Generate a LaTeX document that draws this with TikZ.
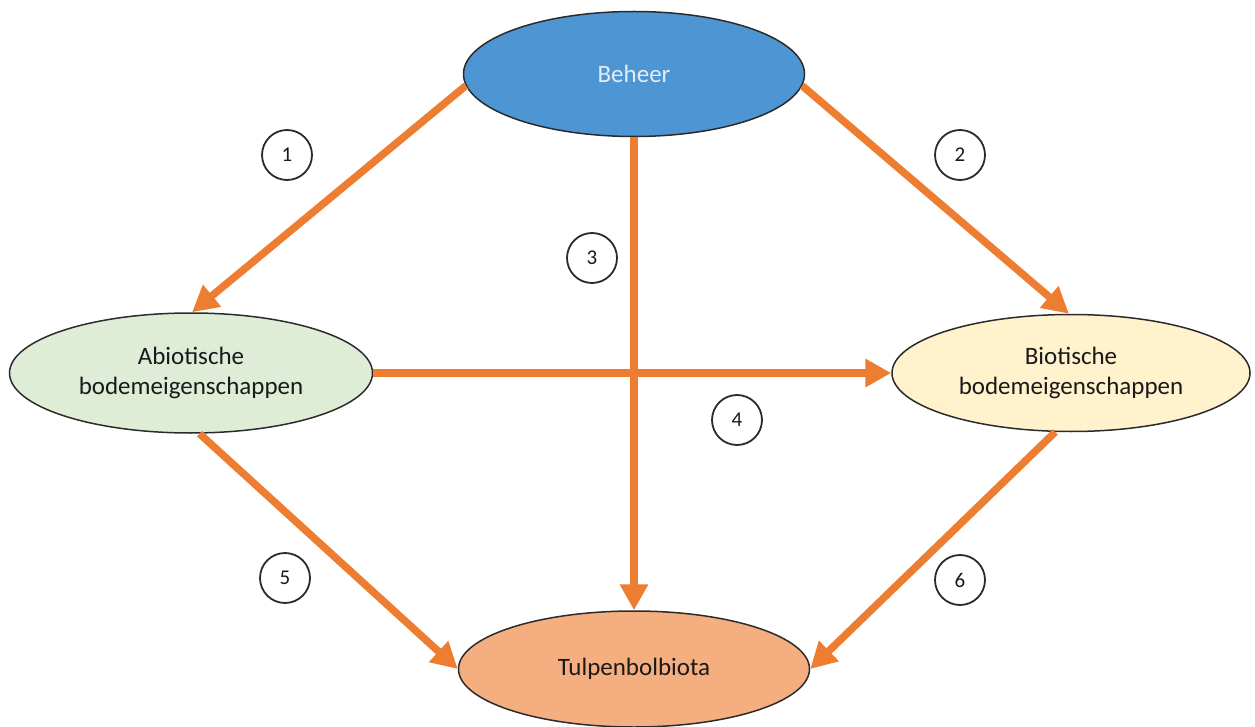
\documentclass[tikz,border=0pt]{standalone}
\usepackage{fontspec}
\setmainfont{Carlito}
\usetikzlibrary{shapes.geometric,arrows.meta}
\definecolor{arrowc}{HTML}{ED7D31}
\definecolor{bluef}{HTML}{4E95D3}
\definecolor{greenf}{HTML}{DFEDD7}
\definecolor{yellowf}{HTML}{FFF2CC}
\definecolor{salmonf}{HTML}{F4AE7F}
\definecolor{edgec}{HTML}{2B2B2B}
\definecolor{textc}{HTML}{1A1A1A}
\definecolor{lighttext}{HTML}{E4ECF6}
\tikzset{
  oval/.style={ellipse, draw=edgec, line width=1.5pt, inner sep=0pt, align=center,
    font=\fontsize{25}{30}\selectfont, text=textc},
  flow/.style={draw=arrowc, line width=7.5pt, -{Triangle[length=26pt,width=27pt]}},
  num/.style={circle, draw=edgec, line width=1.8pt, minimum size=50pt, inner sep=0pt,
    font=\fontsize{21}{21}\selectfont, text=textc, fill=white}
}
\begin{document}
\begin{tikzpicture}[x=1pt,y=-1pt]
\useasboundingbox (0,0) rectangle (1255,727);
\node[oval, fill=bluef, text=lighttext, minimum width=341pt, minimum height=125pt] (beheer) at (634,74) {Beheer};
\node[oval, fill=greenf, minimum width=363pt, minimum height=120pt] (abio) at (191,373) {Abiotische\\bodemeigenschappen};
\node[oval, fill=yellowf, minimum width=358pt, minimum height=117pt] (bio) at (1071,373) {Biotische\\bodemeigenschappen};
\node[oval, fill=salmonf, minimum width=351pt, minimum height=116pt] (tulp) at (634,669) {Tulpenbolbiota};

\draw[flow] (beheer.184) -- (abio.89);
\draw[flow] (beheer.-4) -- (bio.92);
\draw[flow] (beheer.south) -- (tulp.north);
\draw[flow] (abio.east) -- (bio.west);
\draw[flow] (abio.278) -- (tulp.west);
\draw[flow] (bio.255) -- (tulp.east);

\node[num] (n1) at (287,155) {1};
\node[num] (n2) at (960,155) {2};
\node[num] (n3) at (592,258) {3};
\node[num] (n4) at (737,420) {4};
\node[num] (n5) at (285,578) {5};
\node[num] (n6) at (960,580) {6};
\end{tikzpicture}
\end{document}
